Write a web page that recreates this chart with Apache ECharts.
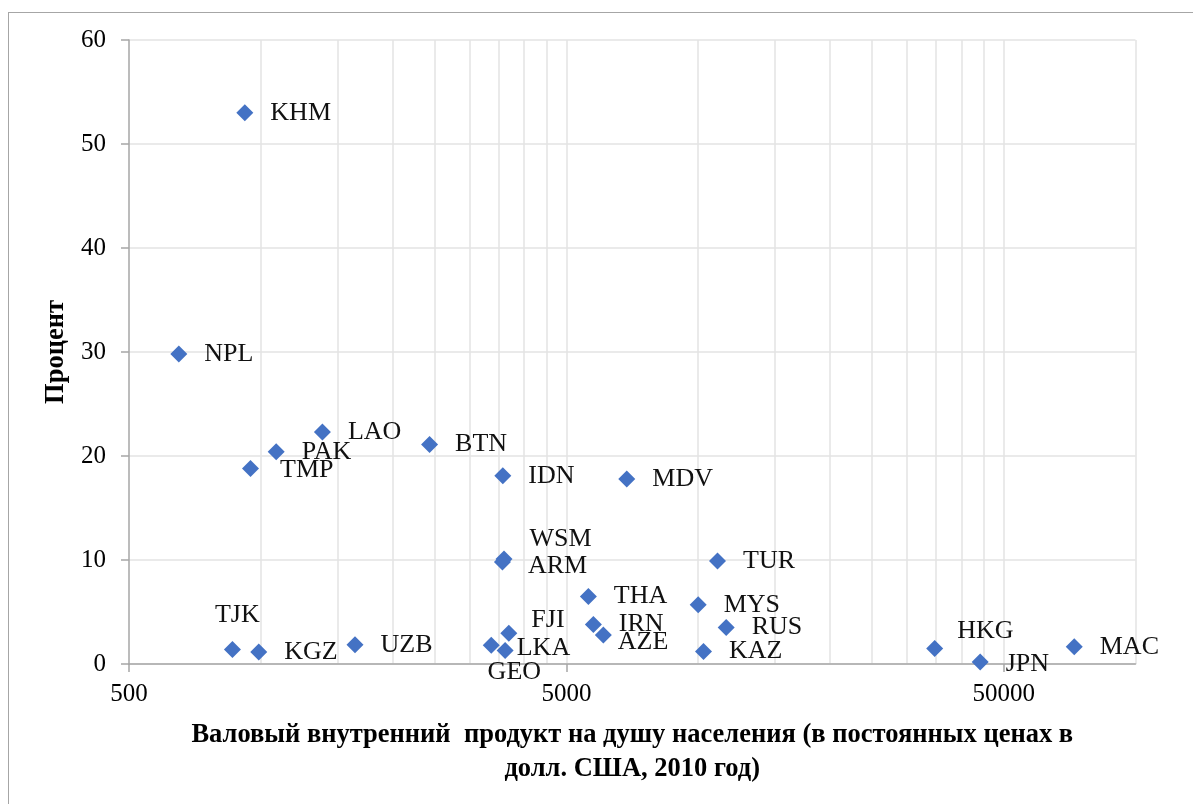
<!DOCTYPE html>
<html>
<head>
<meta charset="utf-8">
<script src="https://cdn.jsdelivr.net/npm/echarts/dist/echarts.min.js"></script>
<style>
  html, body { margin: 0; padding: 0; background: #fff; }
  #chart { width: 1193px; height: 804px; }
  .frame {
    position: absolute; left: 8px; top: 12px; width: 1400px; height: 1000px;
    border-left: 1px solid #a6a6a6; border-top: 1px solid #a6a6a6;
    pointer-events: none;
  }
</style>
</head>
<body>
<div id="chart"></div>
<div class="frame"></div>
<script>
// коды стран
const countries = ["KHM", "NPL", "LAO", "PAK", "TMP", "BTN", "IDN", "MDV", "WSM", "ARM",
  "TUR", "THA", "IRN", "AZE", "MYS", "RUS", "KAZ", "FJI", "LKA", "GEO",
  "TJK", "KGZ", "UZB", "HKG", "JPN", "MAC"];
// ВВП на душу населения, долл. США 2010
const gdp = [920, 650, 1384, 1085, 948, 2433, 3577, 6870, 3600, 3570,
  11076, 5612, 5762, 6073, 10004, 11596, 10290, 3692, 3366, 3621,
  862, 990, 1643, 34750, 44150, 72440];
// процент
const percent = [53.0, 29.8, 22.3, 20.4, 18.8, 21.1, 18.1, 17.8, 10.1, 9.8,
  9.9, 6.5, 3.8, 2.8, 5.7, 3.5, 1.2, 2.95, 1.8, 1.3,
  1.4, 1.15, 1.85, 1.5, 0.2, 1.66];

const xLabelTicks = [500, 5000, 50000];
const xGridTicks = [1000, 1500, 2000, 2500, 3000, 3500, 4000, 4500,
  5000, 10000, 15000, 20000, 25000, 30000, 35000, 40000, 45000, 50000, 100000];

// сдвиги подписей, где они стоят не справа от точки
const labelShift = {
  TJK: [-43, -34], GEO: [-43, 22], FJI: [-3, -13], WSM: [0, -20], ARM: [0, 4],
  AZE: [-11, 7], HKG: [-3, -17], LKA: [0, 3], TMP: [4, 2], JPN: [0, 2]
};

const font = "'Liberation Serif', 'Times New Roman', serif";

const chart = echarts.init(document.getElementById("chart"));

chart.setOption({
  animation: false,
  grid: { left: 129, right: 57.5, top: 40, bottom: 140 },
  xAxis: [
    {
      type: "log",
      logBase: 10,
      min: 500,
      max: 100000,
      name: "Валовый внутренний  продукт на душу населения (в постоянных ценах в\nдолл. США, 2010 год)",
      nameLocation: "middle",
      nameGap: 54,
      nameTextStyle: { fontFamily: font, fontSize: 26.5, fontWeight: "bold", color: "#000", lineHeight: 34 },
      axisLine: { lineStyle: { color: "#a6a6a6", width: 1.5 } },
      axisTick: { show: true, length: 8, customValues: xLabelTicks, lineStyle: { color: "#a6a6a6", width: 1.5 } },
      axisLabel: {
        customValues: xLabelTicks,
        margin: 18,
        fontFamily: font, fontSize: 25, color: "#000",
        formatter: (v) => String(Math.round(v))
      },
      splitLine: { show: false }
    },
    {
      type: "log",
      logBase: 10,
      min: 500,
      max: 100000,
      position: "bottom",
      axisLine: { show: false },
      axisTick: { show: false, customValues: xGridTicks },
      axisLabel: { show: false },
      splitLine: { show: true, lineStyle: { color: "#e3e3e3", width: 1.5 } }
    }
  ],
  yAxis: {
    type: "value",
    min: 0,
    max: 60,
    interval: 10,
    name: "Процент",
    nameLocation: "middle",
    nameGap: 58,
    nameTextStyle: { fontFamily: font, fontSize: 26.5, fontWeight: "bold", color: "#000" },
    axisLine: { show: true, lineStyle: { color: "#a6a6a6", width: 1.5 } },
    axisTick: { show: true, length: 8, lineStyle: { color: "#a6a6a6", width: 1.5 } },
    axisLabel: { margin: 23, fontFamily: font, fontSize: 25, color: "#000" },
    splitLine: { show: true, lineStyle: { color: "#e3e3e3", width: 1.5 } }
  },
  series: [
    {
      type: "scatter",
      xAxisIndex: 0,
      symbol: "diamond",
      symbolSize: 17,
      itemStyle: { color: "#4472C4", opacity: 1 },
      label: {
        show: true,
        position: "right",
        distance: 17,
        fontFamily: font,
        fontSize: 26,
        color: "#111",
        formatter: (p) => p.data.name
      },
      data: countries.map((c, i) => {
        const item = { name: c, value: [gdp[i], percent[i]] };
        if (labelShift[c]) item.label = { offset: labelShift[c] };
        return item;
      })
    }
  ]
});
</script>
</body>
</html>
